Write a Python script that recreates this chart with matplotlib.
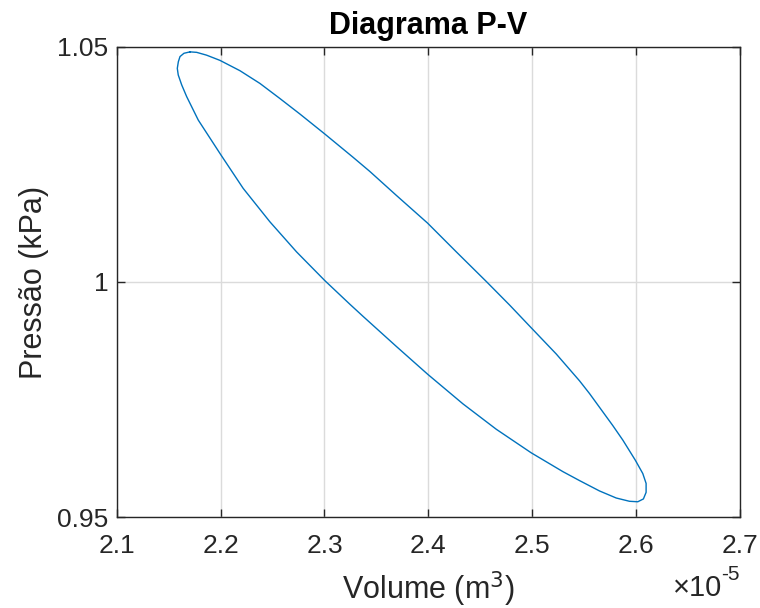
import matplotlib.pyplot as plt

plt.rcParams['font.family'] = ['Liberation Sans', 'DejaVu Sans']

# volume in units of 1e-5 m^3, pressure in kPa
volume = [2.1705, 2.1769, 2.1865, 2.1993, 2.2186, 2.2378, 2.2570, 2.2763,
          2.3000, 2.3275, 2.3436, 2.3692, 2.3993, 2.4269, 2.4558, 2.4782,
          2.4993, 2.5231, 2.5455, 2.5551, 2.5775, 2.5872, 2.5993, 2.6064,
          2.6096, 2.6096, 2.6070, 2.6016, 2.5936, 2.5808, 2.5647, 2.5455,
          2.5295, 2.4990, 2.4654, 2.4333, 2.3993, 2.3692, 2.3371, 2.3243,
          2.3003, 2.2731, 2.2474, 2.2217, 2.2003, 2.1785, 2.1673, 2.1625,
          2.1592, 2.1583, 2.1593, 2.1609, 2.1647, 2.1705]
pressure = [1.0489, 1.0488, 1.0482, 1.0471, 1.0449, 1.0422, 1.0390, 1.0357,
            1.0315, 1.0265, 1.0235, 1.0184, 1.0125, 1.0064, 1.0001, 0.9951,
            0.9902, 0.9847, 0.9790, 0.9763, 0.9695, 0.9664, 0.9621, 0.9593,
            0.9572, 0.9553, 0.9539, 0.9533, 0.9534, 0.9541, 0.9556, 0.9578,
            0.9597, 0.9637, 0.9687, 0.9741, 0.9804, 0.9863, 0.9927, 0.9953,
            1.0003, 1.0064, 1.0128, 1.0199, 1.0270, 1.0344, 1.0394, 1.0419,
            1.0440, 1.0454, 1.0468, 1.0479, 1.0486, 1.0489]

xticks = [2.1, 2.2, 2.3, 2.4, 2.5, 2.6, 2.7]
yticks = [0.95, 1.0, 1.05]
ytick_labels = ['0.95', '1', '1.05']

dark = '#262626'

fig = plt.figure(figsize=(7.6, 6.08), dpi=100)
ax = fig.add_axes([0.1536, 0.1492, 0.9737 - 0.1536, 0.9232 - 0.1492])

ax.plot(volume, pressure, color='#0072BD', lw=1.0)

ax.set_xlim(2.1, 2.7)
ax.set_ylim(0.95, 1.05)
ax.set_xticks(xticks)
ax.set_xticklabels([str(t) for t in xticks])
ax.set_yticks(yticks)
ax.set_yticklabels(ytick_labels)

ax.grid(True, color='#dbdbdb', lw=1.0)
ax.set_axisbelow(True)
ax.tick_params(direction='in', length=6, width=1.0, colors=dark,
               labelsize=19, top=True, right=True)
ax.tick_params(axis='x', pad=12)
ax.tick_params(axis='y', pad=6)
for sp in ax.spines.values():
    sp.set_color(dark)
    sp.set_linewidth(1.0)

ax.set_title('Diagrama P-V', fontsize=22, fontweight='bold', color='black', pad=9)
ax.set_xlabel('Volume (m$^3$)', fontsize=22, color=dark, labelpad=8)
ax.set_ylabel('Pressão (kPa)', fontsize=22, color=dark, labelpad=6)

# exponent label, drawn like MATLAB's (hyphen, not minus)
fig.text(722 / 760, 1 - 596 / 608, '×10', ha='right', va='baseline',
         fontsize=21, color=dark)
fig.text(721 / 760, 1 - 580 / 608, '-5', ha='left', va='baseline',
         fontsize=15, color=dark)

fig.savefig('out.png', dpi=100)
